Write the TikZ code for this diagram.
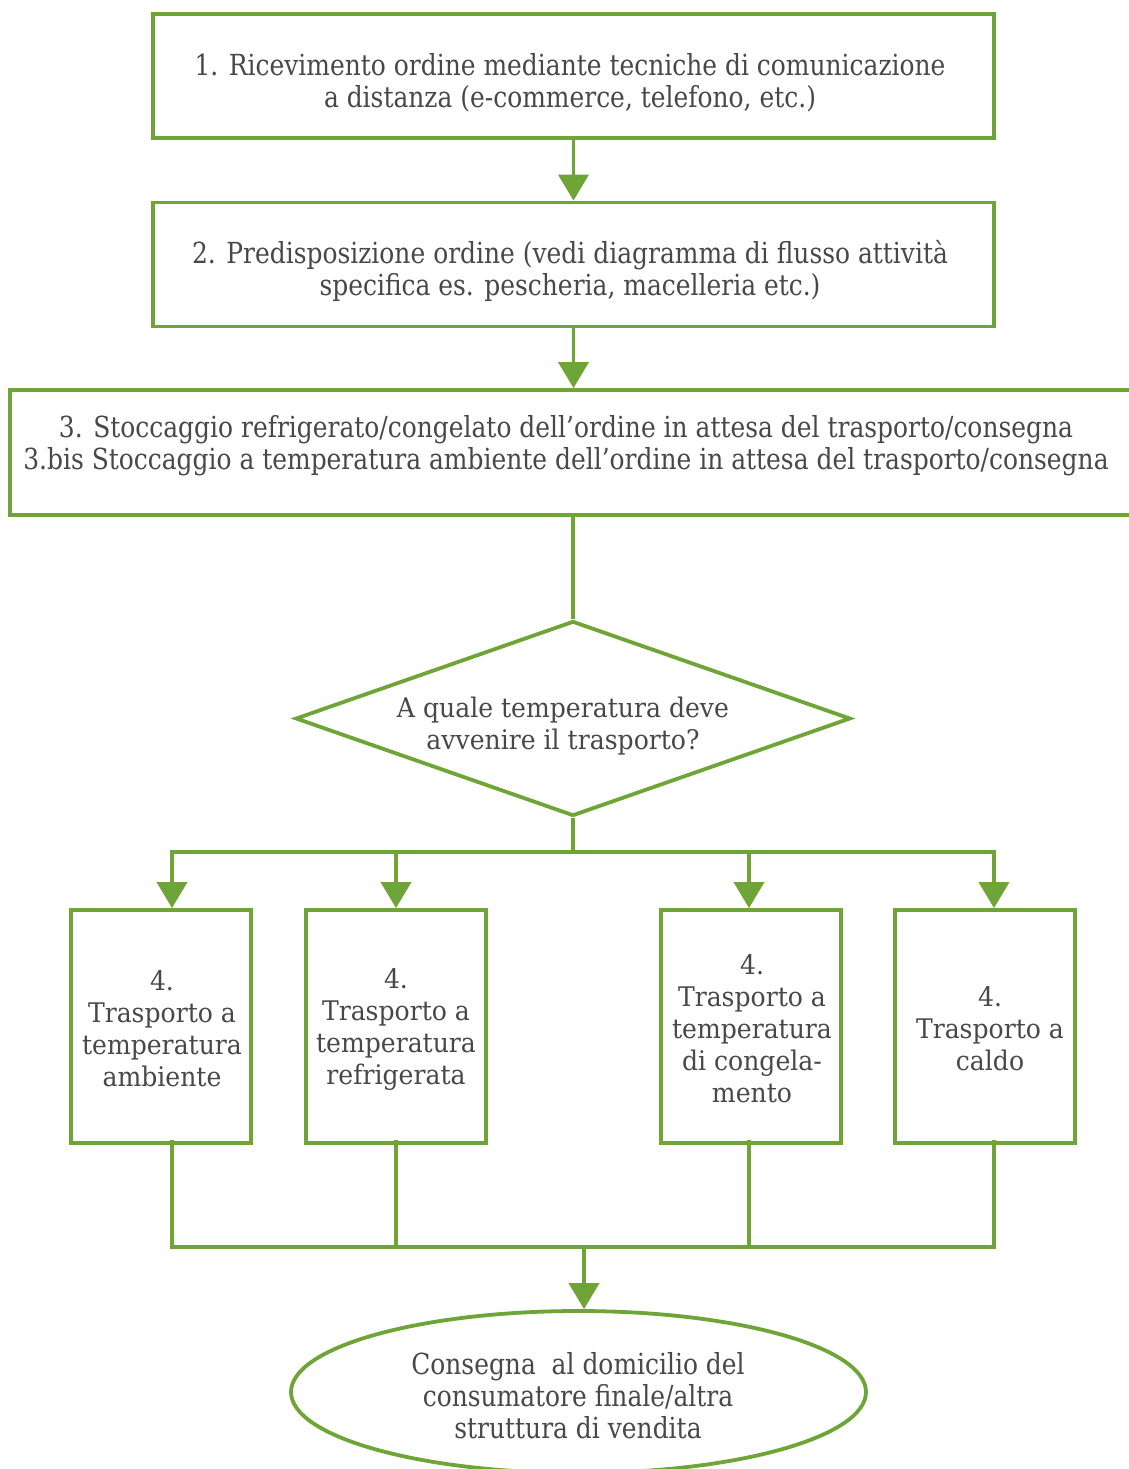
\documentclass[tikz,border=0pt]{standalone}
\usepackage{fontspec}
\setmainfont{DejaVu Serif}
\newfontfamily\fwide[FakeStretch=0.93]{DejaVu Serif}
\newfontfamily\fnarrow[FakeStretch=0.86]{DejaVu Serif}
\usetikzlibrary{shapes.geometric,arrows.meta}
\definecolor{leaf}{HTML}{6FA536}
\definecolor{ink}{HTML}{484848}
\tikzset{
  flow/.style={draw=leaf, line width=3.8pt},
  arr/.style={flow, -{Triangle[width=30pt,length=26pt]}},
  txt/.style={text=ink, align=center, inner sep=0pt},
  stepbox/.style={draw=leaf, line width=3.8pt, rectangle, txt},
  choice/.style={draw=leaf, line width=3.8pt, diamond, txt},
  endbox/.style={draw=leaf, line width=3.8pt, ellipse, txt},
  bigtext/.style={font=\fnarrow\fontsize{29}{32}\selectfont},
  smalltext/.style={font=\fwide\fontsize{27}{32}\selectfont},
}
\begin{document}
\begin{tikzpicture}[x=1pt,y=-1pt]
\useasboundingbox (0,0) rectangle (1128,1469);
\fill[white] (0,0) rectangle (1128,1469);

% upper chain of steps
\node[stepbox, minimum width=841pt, minimum height=124pt] (s1) at (573.5,76) {};
\node[txt, bigtext] (s1t) at (570,83)
  {1. Ricevimento ordine mediante tecniche di comunicazione\\a distanza (e-commerce, telefono, etc.)};
\node[stepbox, minimum width=841pt, minimum height=124pt] (s2) at (573.5,264.5) {};
\node[txt, bigtext] (s2t) at (570,271)
  {2. Predisposizione ordine (vedi diagramma di flusso attività\\specifica es. pescheria, macelleria etc.)};
\node[stepbox, minimum width=1140pt, minimum height=125pt] (s3) at (580,452.5) {};
\node[txt, bigtext] (s3t) at (566,446)
  {3. Stoccaggio refrigerato/congelato dell’ordine in attesa del trasporto/consegna\\3.bis Stoccaggio a temperatura ambiente dell’ordine in attesa del trasporto/consegna};

% decision
\node[choice, minimum width=555pt, minimum height=195pt] (q) at (573,718.5) {};
\node[txt, smalltext] (qt) at (563,726)
  {A quale temperatura deve\\avvenire il trasporto?};

% transport options
\node[stepbox, minimum width=180pt, minimum height=233pt] (t1) at (161,1026.5) {};
\node[txt, smalltext] (t1t) at (162,1029)
  {4.\\Trasporto a\\temperatura\\ambiente};
\node[stepbox, minimum width=180pt, minimum height=233pt] (t2) at (396,1026.5) {};
\node[txt, smalltext] (t2t) at (396,1029)
  {4.\\Trasporto a\\temperatura\\refrigerata};
\node[stepbox, minimum width=180pt, minimum height=233pt] (t3) at (751,1026.5) {};
\node[txt, smalltext] (t3t) at (752,1029)
  {4.\\Trasporto a\\temperatura\\di congela-\\mento};
\node[stepbox, minimum width=180pt, minimum height=233pt] (t4) at (985,1026.5) {};
\node[txt, smalltext] (t4t) at (990,1029)
  {4.\\Trasporto a\\caldo};

% final delivery
\node[endbox, minimum width=575pt, minimum height=162pt] (d) at (578.5,1392) {};
\node[txt, bigtext] (dt) at (578,1396)
  {Consegna\ \ al domicilio del\\consumatore finale/altra\\struttura di vendita};

% junction points
\coordinate (qs) at (573,852);
\coordinate (j1) at (172,852);
\coordinate (j2) at (396,852);
\coordinate (j3) at (749,852);
\coordinate (j4) at (994,852);
\coordinate (m1) at (172,1247);
\coordinate (m2) at (396,1247);
\coordinate (m3) at (749,1247);
\coordinate (m4) at (994,1247);
\coordinate (mc) at (584,1247);

% connectors
\draw[arr] (s1.south) -- (s2.north);
\draw[arr] (s2.south) -- (s3.north -| s2.south);
\draw[flow] (s3.south -| q.north) -- (q.north);
\draw[flow] (q.south) -- (qs);
\draw[arr] (qs) -| (j1 |- t1.north);
\draw[arr] (qs) -| (j4 |- t4.north);
\draw[arr] (j2) -- (j2 |- t2.north);
\draw[arr] (j3) -- (j3 |- t3.north);
\draw[flow] ([yshift=5pt]m1 |- t1.south) |- (mc);
\draw[flow] ([yshift=5pt]m4 |- t4.south) |- (mc);
\draw[flow] ([yshift=5pt]m2 |- t2.south) -- (m2);
\draw[flow] ([yshift=5pt]m3 |- t3.south) -- (m3);
\draw[arr] (mc) -- (d.north -| mc);
\end{tikzpicture}
\end{document}
